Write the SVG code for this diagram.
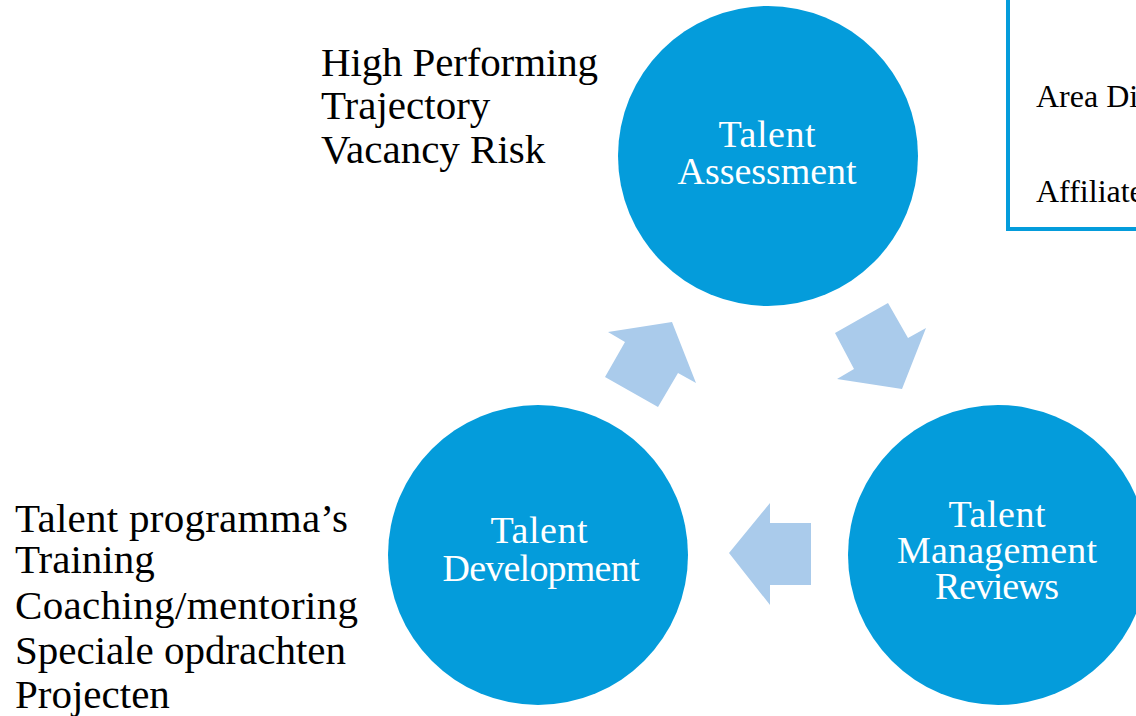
<svg xmlns="http://www.w3.org/2000/svg" width="1136" height="716" viewBox="0 0 1136 716">
<style>
.circ{fill:#049cdb}
.ctext{font-family:"Liberation Serif","Times New Roman",serif;font-size:38px;fill:#ffffff;text-anchor:middle}
.btext{font-family:"Liberation Serif","Times New Roman",serif;font-size:41px;fill:#000000}
.boxtext{font-family:"Liberation Serif","Times New Roman",serif;font-size:32px;fill:#000000}
.arrow{fill:#aacbeb}
</style>
<rect x="0" y="0" width="1136" height="716" fill="#ffffff"/>
<g id="legend-box">
<rect x="1008" y="-10" width="200" height="239" fill="#ffffff" stroke="#049cdb" stroke-width="4"/>
<text class="boxtext" x="1036" y="107">Area Dir</text>
<text class="boxtext" x="1036" y="202">Affiliate</text>
</g>
<g id="connectors">
<polygon class="arrow" points="608,332 672,322 696,383 678,373 658,407 605,377 625,342"/>
<polygon class="arrow" points="835,333 888,303 908,338 926,328 902,389 837,379 854,369"/>
<polygon class="arrow" points="729,553 770,503 770,523 811,523 811,585 770,585 770,605"/>
</g>
<g id="node-assessment">
<circle class="circ" cx="768" cy="156" r="150"/>
<text class="ctext" x="767" y="147" textLength="97">Talent</text>
<text class="ctext" x="767" y="184" textLength="179">Assessment</text>
</g>
<g id="node-development">
<circle class="circ" cx="538" cy="555" r="150"/>
<text class="ctext" x="539" y="543" textLength="97">Talent</text>
<text class="ctext" x="541" y="581" textLength="197">Development</text>
</g>
<g id="node-reviews">
<circle class="circ" cx="998" cy="555" r="150"/>
<text class="ctext" x="997" y="527" textLength="97">Talent</text>
<text class="ctext" x="997" y="563" textLength="200">Management</text>
<text class="ctext" x="997" y="599" textLength="124">Reviews</text>
</g>
<g id="assessment-notes">
<text class="btext" x="321" y="76" textLength="277">High Performing</text>
<text class="btext" x="321" y="119">Trajectory</text>
<text class="btext" x="321" y="163">Vacancy Risk</text>
</g>
<g id="development-notes">
<text class="btext" x="15" y="532" textLength="333">Talent programma’s</text>
<text class="btext" x="15" y="573">Training</text>
<text class="btext" x="15" y="619" textLength="343">Coaching/mentoring</text>
<text class="btext" x="15" y="664" textLength="331">Speciale opdrachten</text>
<text class="btext" x="15" y="708">Projecten</text>
</g>
</svg>
